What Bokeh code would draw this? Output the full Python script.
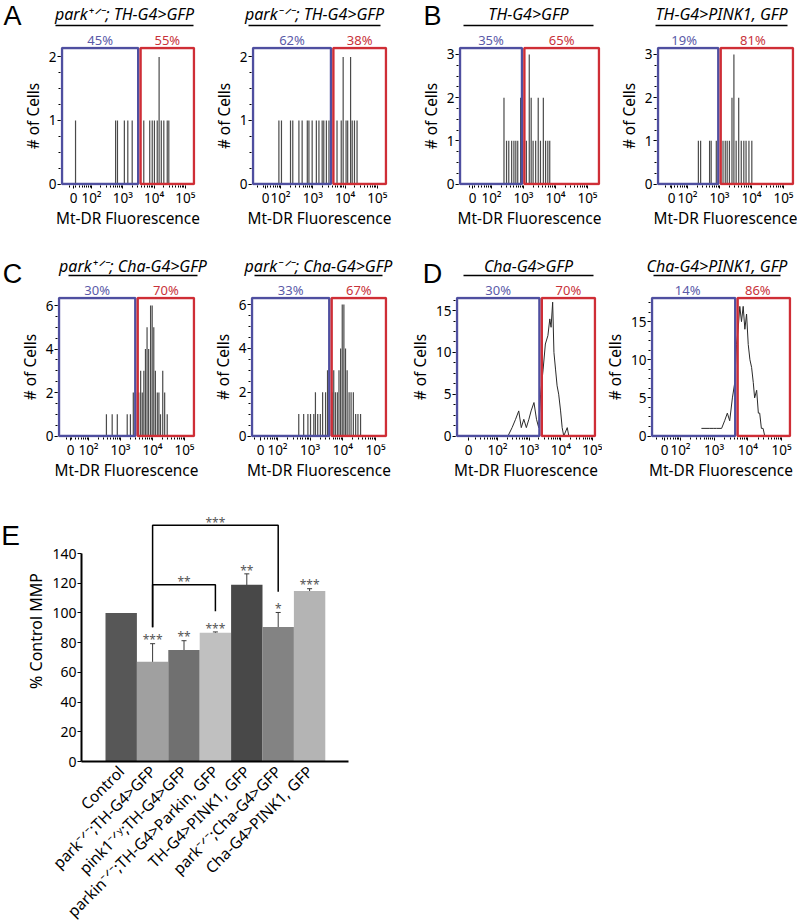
import math
from bokeh.plotting import figure
from bokeh.layouts import column, row
from bokeh.models import (FixedTicker, Range1d, ColumnDataSource, Whisker, TeeHead)
from bokeh.embed import file_html
from bokeh.resources import INLINE
from bokeh.core.properties import value

FONT = "Noto Sans"
BLUE = "#4f4fa0"
RED = "#cf2e36"
W = 797

# ---------------- data ----------------
# Flow histograms: positions on the logicle display axis (2 = 10^2 ... 5 = 10^5), counts
A1_pos = [1.49, 2.77, 2.83, 3.05, 3.16, 3.30, 3.67, 3.86, 3.94, 4.01, 4.10, 4.16, 4.23, 4.31, 4.42, 4.47]
A1_cnt = [1, 1, 1, 1, 1, 1, 1, 1, 1, 1, 1, 2, 1, 1, 1, 1]
A2_pos = [1.95, 2.03, 2.31, 2.38, 2.57, 2.67, 2.83, 2.88, 2.98, 3.11, 3.19, 3.29, 3.34, 3.42, 3.50,
          3.75, 3.88, 3.94, 4.03, 4.08, 4.17, 4.22, 4.29, 4.37]
A2_cnt = [1, 1, 1, 1, 1, 1, 1, 1, 1, 1, 1, 1, 1, 1, 1, 1, 1, 2, 1, 1, 2, 1, 1, 1]
B1_pos = [2.39, 2.47, 2.54, 2.63, 2.70, 2.76, 2.82, 2.91, 2.97, 3.09, 3.18, 3.24, 3.30, 3.38, 3.46,
          3.53, 3.62, 3.69, 3.76, 3.82]
B1_cnt = [2, 1, 1, 1, 1, 1, 1, 2, 1, 1, 3, 2, 1, 1, 2, 1, 2, 1, 1, 1]
B2_pos = [2.34, 2.41, 2.69, 2.74, 2.90, 3.11, 3.18, 3.24, 3.31, 3.39, 3.45, 3.52, 3.60, 3.68, 3.76,
          3.83, 3.92, 4.01]
B2_cnt = [1, 1, 1, 1, 1, 1, 1, 1, 1, 2, 3, 1, 2, 1, 1, 1, 1, 1]
C1_pos = [2.56, 2.74, 2.90, 3.21, 3.31, 3.40, 3.47, 3.57, 3.63, 3.68, 3.73, 3.78, 3.83, 3.88, 3.94,
          3.99, 4.04, 4.09, 4.15, 4.20, 4.25, 4.32, 4.38, 4.46]
C1_cnt = [1, 1, 1, 1, 1, 2, 2, 2, 3, 2, 3, 4, 5, 4, 6, 6, 5, 3, 2, 2, 1, 3, 2, 1]
C2_pos = [2.65, 2.80, 2.93, 3.01, 3.11, 3.16, 3.23, 3.31, 3.38, 3.47, 3.53, 3.59, 3.67, 3.72, 3.77,
          3.83, 3.88, 3.93, 3.98, 4.03, 4.08, 4.13, 4.19, 4.25, 4.32, 4.39, 4.46, 4.54]
C2_cnt = [1, 1, 1, 1, 1, 2, 1, 1, 2, 2, 3, 1, 2, 3, 2, 2, 3, 4, 6, 6, 4, 3, 2, 2, 2, 1, 1, 1]
D1_pos = [2.33, 2.46, 2.57, 2.67, 2.75, 2.83, 2.91, 2.99, 3.06, 3.15, 3.23, 3.30, 3.36, 3.44, 3.51,
          3.59, 3.65, 3.69, 3.74, 3.78, 3.83, 3.88, 3.93, 3.99, 4.04, 4.09, 4.20, 4.25]
D1_cnt = [0, 1, 2, 3, 1, 2, 1, 2, 3, 4, 2, 1, 5, 8, 11, 12, 14, 13, 16, 10, 8, 6, 5, 3, 1, 0, 1, 0]
D2_pos = [2.62, 2.87, 2.97, 3.07, 3.22, 3.31, 3.39, 3.46, 3.54, 3.61, 3.66, 3.71, 3.76, 3.81, 3.86,
          3.91, 3.96, 4.01, 4.06, 4.11, 4.16, 4.20, 4.26, 4.31, 4.35, 4.40, 4.45, 4.50]
D2_cnt = [1, 1, 1, 1, 1, 2, 3, 2, 5, 7, 12, 14, 17, 15, 17, 14, 16, 12, 10, 9, 7, 5, 6, 3, 3, 1, 1, 0]

panel_titles = ["park\u207a\u141f\u207b; TH-G4>GFP", "park\u207b\u141f\u207b; TH-G4>GFP",
                "TH-G4>GFP", "TH-G4>PINK1, GFP",
                "park\u207a\u141f\u207b; Cha-G4>GFP", "park\u207b\u141f\u207b; Cha-G4>GFP",
                "Cha-G4>GFP", "Cha-G4>PINK1, GFP"]
panel_letters = ["A", "B", "C", "D", "E"]
low_pct = [45, 62, 35, 19, 30, 33, 30, 14]
high_pct = [55, 38, 65, 81, 70, 67, 70, 86]
gate_pos = [3.53, 3.60, 2.99, 3.00, 3.50, 3.62, 3.36, 3.66]
gate_top = [2.14, 2.14, 3.15, 3.15, 6.35, 6.30, 16.5, 18.1]
y_ticks = [[0, 1, 2], [0, 1, 2], [0, 1, 2, 3], [0, 1, 2, 3],
           [0, 2, 4, 6], [0, 2, 4, 6], [0, 5, 10, 15], [0, 5, 10, 15]]
hist_pos = [A1_pos, A2_pos, B1_pos, B2_pos, C1_pos, C2_pos, D1_pos, D2_pos]
hist_cnt = [A1_cnt, A2_cnt, B1_cnt, B2_cnt, C1_cnt, C2_cnt, D1_cnt, D2_cnt]

# Bar chart (panel E)
genotypes = ["Control", "park\u207b\u141f\u207b;TH-G4>GFP", "pink1\u207b\u141f\u02b8;TH-G4>GFP",
             "parkin\u207b\u141f\u207b;TH-G4>Parkin, GFP", "TH-G4>PINK1, GFP",
             "park\u207b\u141f\u207b;Cha-G4>GFP", "Cha-G4>PINK1, GFP"]
mmp = [100, 67.2, 75.1, 86.7, 118.9, 90.6, 114.8]
mmp_err = [0, 12.1, 6.2, 0.5, 7.4, 9.7, 1.5]
sig_stars = ["", "***", "**", "***", "**", "*", "***"]
bar_colors = ["#575757", "#a0a0a0", "#707070", "#c0c0c0", "#484848", "#838383", "#b4b4b4"]
comp_left = [1, 1]
comp_right = [5, 3]
comp_stars = ["***", "**"]
comp_top = [159, 119]

# ---------------- layout geometry (pixels) ----------------
# fig_x, fig_w, frame L, frame R, px of 10^2, px per decade, px of "0", underline extent
geo = [
    (0, 205, 60, 195, 91, 31.3, 73, (55, 193)),
    (205, 200, 251, 387, 280, 32.3, 265, (248, 380)),
    (405, 210, 458, 600, 491, 32.0, 472, (463, 593)),
    (615, 182, 652, 790, 683, 32.0, 667, (655, 787)),
    (0, 205, 57, 195, 88, 32.0, 70, (68, 197)),
    (205, 195, 250, 387, 277, 32.7, 260, (254, 382)),
    (400, 202, 455, 596, 497, 31.7, 468, (463, 593)),
    (602, 195, 644, 785, 674, 33.7, 658, (653, 780)),
]
# per row: header top, header h, hist fig top, hist fig h, frame top, gate top px,
#          zero px, frame bottom px, title y, underline y, pct y, letter y
rows_geo = [(0, 50, 42, 198, 46, 47.5, 183.5, 185, 13, 25, 39, 14),
            (240, 62, 290, 200, 296, 297.5, 435.5, 437, 265, 275, 289, 272)]
letter_x = [12, 432]


def gate_px(i):
    fig_x, fig_w, L, R, p2, ppd, zpx, ul = geo[i]
    return p2 + (gate_pos[i] - 2) * ppd


def hist_panel(i):
    fig_x, fig_w, L, R, p2, ppd, zpx, ul = geo[i]
    _, _, top, fig_h, T, G, Z, B, *_ = rows_geo[i // 4]
    ymax = gate_top[i]
    x0 = 2 + (L - p2) / ppd
    x1 = 2 + (R - p2) / ppd
    ppu = (Z - G) / ymax
    y0 = -(B - Z) / ppu
    y1 = ymax + (G - T) / ppu

    def fx(px):
        return x0 + (px - L) / ppd

    p = figure(frame_width=R - L, frame_height=B - T,
               min_border_left=L - fig_x, min_border_right=fig_x + fig_w - R,
               min_border_top=T - top, min_border_bottom=top + fig_h - B,
               x_range=Range1d(x0, x1), y_range=Range1d(y0, y1),
               toolbar_location=None, output_backend="svg", title=None)
    p.outline_line_color = None
    p.border_fill_color = None
    p.background_fill_color = None
    p.grid.visible = False

    if i >= 6:
        p.line(hist_pos[i], hist_cnt[i], line_color="#2a2a2a", line_width=1)
    else:
        p.segment(x0=hist_pos[i], y0=[0] * len(hist_pos[i]), x1=hist_pos[i], y1=hist_cnt[i],
                  line_color="#4a4a4a", line_width=1.2)

    g = gate_pos[i]
    d = 1.2 / ppd
    xl = fx(L + 1.5)
    xr = fx(R - 1.5)
    p.quad(left=[xl], right=[g - d], bottom=[0], top=[ymax],
           fill_color=None, line_color=BLUE, line_width=2.4)
    p.quad(left=[g + d], right=[xr], bottom=[0], top=[ymax],
           fill_color=None, line_color=RED, line_width=2.4)

    zero_x = round(2 + (zpx - p2) / ppd, 3)
    minors = []
    for dec in range(1, 5):
        for k in range(2, 10):
            v = dec + math.log10(k)
            if x0 < v < x1:
                minors.append(v)
    p.xaxis.ticker = FixedTicker(ticks=[zero_x, 2, 3, 4, 5], minor_ticks=minors)
    p.xaxis.major_label_overrides = {zero_x: "0", 2: "10\u00b2", 3: "10\u00b3", 4: "10\u2074", 5: "10\u2075"}
    yt = y_ticks[i]
    step = yt[1] - yt[0]
    ymin_ticks = [k * step / 4 for k in range(0, int(4 * ymax / step) + 1)]
    p.yaxis.ticker = FixedTicker(ticks=yt, minor_ticks=ymin_ticks)
    p.xaxis.axis_label = "Mt-DR Fluorescence"
    p.yaxis.axis_label = "# of Cells"
    for ax in (p.xaxis[0], p.yaxis[0]):
        ax.axis_line_color = None
        ax.major_tick_line_color = "black"
        ax.minor_tick_line_color = "black"
        ax.major_tick_in = 0
        ax.major_tick_out = 3
        ax.minor_tick_in = 0
        ax.minor_tick_out = 2
        ax.major_label_standoff = 1
        ax.axis_label_standoff = 2
        ax.major_label_text_font = FONT
        ax.major_label_text_font_size = "13.5px"
        ax.major_label_text_color = "black"
        ax.axis_label_text_font = FONT
        ax.axis_label_text_font_size = "15.4px"
        ax.axis_label_text_font_style = "normal"
        ax.axis_label_text_color = "black"
    p.xaxis.major_label_standoff = 0
    p.xaxis.axis_label_standoff = -2
    return p


def header(r):
    top, h, hist_top, _, _, _, _, _, title_y, ul_y, pct_y, let_y = rows_geo[r]
    hp = figure(frame_width=W, frame_height=h, min_border_left=0, min_border_right=0,
                min_border_top=0, min_border_bottom=0,
                x_range=Range1d(0, W), y_range=Range1d(top + h, top),
                x_axis_type=None, y_axis_type=None,
                toolbar_location=None, output_backend="svg", title=None,
                styles={"margin-bottom": f"{hist_top - (top + h)}px"})
    hp.outline_line_color = None
    hp.border_fill_color = None
    hp.background_fill_color = None
    hp.grid.visible = False
    ids = list(range(4 * r, 4 * r + 4))
    ul0 = [geo[i][7][0] for i in ids]
    ul1 = [geo[i][7][1] for i in ids]
    hp.text(x=[(a + b) / 2 for a, b in zip(ul0, ul1)], y=[title_y] * 4,
            text=[panel_titles[i] for i in ids], text_align="center", text_baseline="middle",
            text_font=value(FONT), text_font_style="italic", text_font_size="16px",
            text_color="black")
    hp.segment(x0=ul0, y0=[ul_y] * 4, x1=ul1, y1=[ul_y] * 4, line_color="black", line_width=1.4)
    lowx = [(geo[i][2] + 1.5 + gate_px(i) - 1.2) / 2 for i in ids]
    highx = [(geo[i][3] - 1.5 + gate_px(i) + 1.2) / 2 for i in ids]
    hp.text(x=lowx, y=[pct_y] * 4, text=[f"{low_pct[i]}%" for i in ids],
            text_align="center", text_baseline="middle", text_font=value(FONT),
            text_font_size="13px", text_color="#5a5aa8")
    hp.text(x=highx, y=[pct_y] * 4, text=[f"{high_pct[i]}%" for i in ids],
            text_align="center", text_baseline="middle", text_font=value(FONT),
            text_font_size="13px", text_color="#c8323a")
    hp.text(x=letter_x, y=[let_y + 1] * 2, text=panel_letters[2 * r:2 * r + 2],
            text_align="center", text_baseline="middle", text_font=value("Liberation Sans"),
            text_font_size="27px", text_color="black")
    return hp


hist_figs = [hist_panel(i) for i in range(8)]

# ---------------- panel E ----------------
E_top, E_h = 490, 432
LET_W = 22
EL, ER, ET, EB = 76, 343, 500, 761
bar_px = 31.4
first_center = 115.7
ppu_E = (EB - 553) / 140.0
ex0 = (EL - first_center) / bar_px
ex1 = (ER - first_center) / bar_px
ey1 = (EB - ET) / ppu_E

lp = figure(frame_width=LET_W, frame_height=E_h, min_border_left=0, min_border_right=0,
            min_border_top=0, min_border_bottom=0,
            x_range=Range1d(0, LET_W), y_range=Range1d(E_top + E_h, E_top),
            x_axis_type=None, y_axis_type=None,
            toolbar_location=None, output_backend="svg", title=None)
lp.outline_line_color = None
lp.grid.visible = False
lp.text(x=[10], y=[525], text=[panel_letters[4]], text_align="center", text_baseline="middle",
        text_font=value("Liberation Sans"), text_font_size="28px", text_color="black")

pE = figure(frame_width=ER - EL, frame_height=EB - ET,
            min_border_left=EL - LET_W, min_border_right=W - ER,
            min_border_top=ET - E_top, min_border_bottom=E_top + E_h - EB,
            x_range=Range1d(ex0, ex1), y_range=Range1d(0, ey1),
            toolbar_location=None, output_backend="svg", title=None)
pE.outline_line_color = None
pE.grid.visible = False

idx = list(range(len(genotypes)))
pE.vbar(x=idx, top=mmp, width=1.0, fill_color=bar_colors, line_color=None)

err_src = ColumnDataSource(dict(
    x=[k for k in idx if mmp_err[k] > 0],
    upper=[mmp[k] + mmp_err[k] for k in idx if mmp_err[k] > 0],
    lower=[mmp[k] - mmp_err[k] for k in idx if mmp_err[k] > 0]))
pE.add_layout(Whisker(source=err_src, base="x", upper="upper", lower="lower",
                      line_color="#3a3a3a", line_width=1,
                      upper_head=TeeHead(size=5, line_color="#3a3a3a", line_width=1),
                      lower_head=TeeHead(size=5, line_color="#3a3a3a", line_width=1)))

star_src = ColumnDataSource(dict(
    x=[k for k in idx if sig_stars[k]],
    y=[mmp[k] + mmp_err[k] + 2.5 for k in idx if sig_stars[k]],
    t=[sig_stars[k] for k in idx if sig_stars[k]]))
pE.text(x="x", y="y", text="t", source=star_src, text_align="center",
        text_baseline="alphabetic", text_font=value(FONT), text_font_size="12px",
        text_color="#555555")

xs, ys, mx, my = [], [], [], []
for l, r, top in zip(comp_left, comp_right, comp_top):
    lb = mmp[l] + mmp_err[l] + 11
    rb = mmp[r] + mmp_err[r] + 14
    xs.append([l, l, r, r])
    ys.append([lb, top, top, rb])
    mx.append((l + r) / 2)
    my.append(top + 2)
pE.multi_line(xs=xs, ys=ys, line_color="black", line_width=1.5)
pE.text(x=mx, y=my, text=comp_stars, text_align="center", text_baseline="alphabetic",
        text_font=value(FONT), text_font_size="12px", text_color="#555555")

pE.xaxis.ticker = FixedTicker(ticks=idx)
pE.xaxis.major_label_overrides = {k: genotypes[k] for k in idx}
pE.xaxis.major_label_orientation = math.pi / 4
pE.xaxis.major_tick_line_color = None
pE.xaxis.minor_tick_line_color = None
pE.xaxis.axis_line_width = 2
pE.xaxis.major_label_standoff = 1
pE.yaxis.ticker = FixedTicker(ticks=list(range(0, 141, 20)))
pE.yaxis.bounds = (0, 140)
pE.yaxis.axis_line_width = 2
pE.yaxis.major_tick_in = 0
pE.yaxis.major_tick_out = 4
pE.yaxis.minor_tick_line_color = None
pE.yaxis.major_label_standoff = 1
pE.yaxis.axis_label = "% Control MMP"
pE.yaxis.axis_label_standoff = 2
for ax in (pE.xaxis[0], pE.yaxis[0]):
    ax.major_label_text_font = FONT
    ax.major_label_text_color = "black"
    ax.axis_label_text_font = FONT
    ax.axis_label_text_font_style = "normal"
    ax.axis_label_text_font_size = "16px"
    ax.axis_label_text_color = "black"
pE.xaxis.major_label_text_font_size = "15.5px"
pE.yaxis.major_label_text_font_size = "14px"

layout = column(header(0), row(*hist_figs[:4]), header(1), row(*hist_figs[4:]), row(lp, pE))

with open("out.html", "w") as f:
    f.write(file_html(layout, INLINE))
